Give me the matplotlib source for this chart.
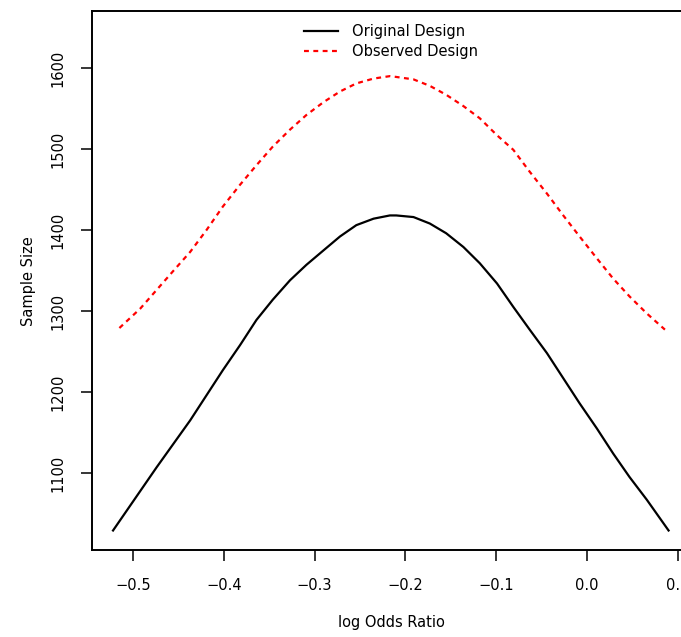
import numpy as np
import matplotlib
matplotlib.use("Agg")
import matplotlib.pyplot as plt

# valores
log_or_orig = [-0.522, -0.474, -0.437, -0.401, -0.382, -0.364, -0.346, -0.327, -0.309,
               -0.290, -0.272, -0.254, -0.235, -0.217, -0.210, -0.191, -0.173, -0.155,
               -0.136, -0.118, -0.099, -0.081, -0.063, -0.044, -0.026, -0.008, 0.011,
               0.029, 0.047, 0.066, 0.090]
n_orig = [1029, 1107, 1165, 1227, 1258, 1289, 1314, 1338, 1357,
          1375, 1392, 1406, 1414, 1418, 1418, 1416, 1408, 1396,
          1379, 1359, 1334, 1305, 1277, 1248, 1217, 1186, 1155,
          1124, 1095, 1067, 1029]

log_or_obs = [-0.515, -0.492, -0.474, -0.456, -0.437, -0.419, -0.401, -0.382, -0.364,
              -0.346, -0.327, -0.309, -0.290, -0.272, -0.254, -0.235, -0.217, -0.210,
              -0.191, -0.173, -0.155, -0.136, -0.118, -0.099, -0.081, -0.063, -0.044,
              -0.026, -0.008, 0.011, 0.029, 0.047, 0.066, 0.086]
n_obs = [1279, 1303, 1326, 1349, 1373, 1400, 1429, 1456, 1480,
         1503, 1524, 1542, 1558, 1571, 1581, 1587, 1590, 1589,
         1586, 1578, 1567, 1553, 1538, 1517, 1499, 1472, 1445,
         1418, 1392, 1365, 1340, 1318, 1297, 1277]

x_ticks = [-0.5, -0.4, -0.3, -0.2, -0.1, 0.0, 0.1]
y_ticks = [1100, 1200, 1300, 1400, 1500, 1600]

plt.rcParams["font.family"] = "DejaVu Sans"
plt.rcParams["font.size"] = 10.5

fig = plt.figure(figsize=(6.81, 6.37), dpi=100)
ax = fig.add_axes([0.1344, 0.1358, 0.880, 0.8469])

ax.plot(log_or_orig, n_orig, color="black", lw=1.6, label="Original Design")
ax.plot(log_or_obs, n_obs, color="red", lw=1.6, linestyle=(0, (2.2, 2.0)),
        label="Observed Design")

ax.set_xlim(-0.5457, 0.1145)
ax.set_ylim(1004.3, 1670.4)

ax.set_xticks(x_ticks)
ax.set_xticklabels([("%.1f" % v).replace("-", "\u2212") for v in x_ticks])
ax.set_yticks(y_ticks)
ax.set_yticklabels([str(v) for v in y_ticks], rotation=90, va="center")

ax.tick_params(axis="x", length=8, width=1.1, pad=12)
ax.tick_params(axis="y", length=8, width=1.1, pad=11)
for s in ax.spines.values():
    s.set_linewidth(1.4)

ax.set_xlabel("log Odds Ratio", labelpad=16)
ax.set_ylabel("Sample Size", labelpad=10)

ax.legend(loc="upper center", frameon=False, handlelength=2.3,
          handletextpad=1.0, labelspacing=0.35)

fig.savefig("out.png", dpi=100)
